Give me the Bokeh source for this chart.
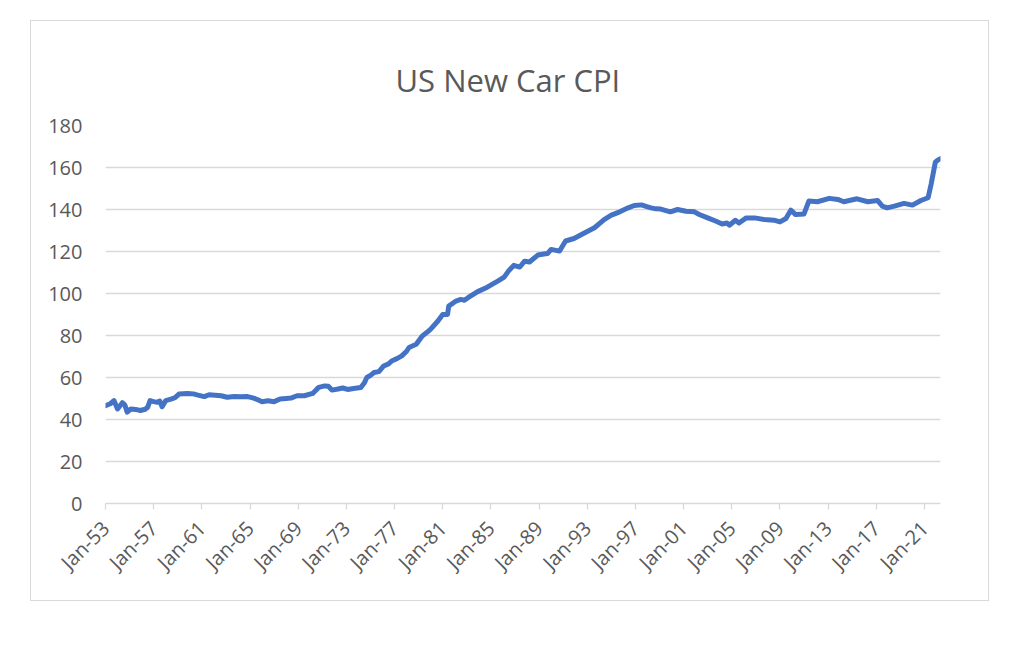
import math
from bokeh.plotting import figure
from bokeh.models import FixedTicker
from bokeh.embed import file_html
from bokeh.resources import INLINE

# Decimal year of each reading and the CPI value
YEARS = [1953.0, 1953.4, 1953.7, 1954.0, 1954.4, 1954.6, 1954.8, 1955.1, 1955.5, 1955.9,
         1956.3, 1956.5, 1956.7, 1957.0, 1957.3, 1957.5, 1957.7, 1958.0, 1958.5, 1958.8,
         1959.1, 1959.8, 1960.3, 1960.6, 1961.2, 1961.6, 1962.1, 1962.6, 1963.1, 1963.7,
         1964.2, 1964.8, 1965.3, 1965.7, 1966.0, 1966.5, 1967.0, 1967.5, 1968.0, 1968.4,
         1968.9, 1969.5, 1970.2, 1970.7, 1971.2, 1971.5, 1971.8, 1972.3, 1972.7, 1973.1,
         1973.6, 1974.2, 1974.5, 1974.7, 1975.0, 1975.3, 1975.7, 1976.1, 1976.5, 1976.8,
         1977.2, 1977.6, 1978.0, 1978.2, 1978.8, 1979.3, 1979.7, 1980.0, 1980.6, 1981.0,
         1981.4, 1981.5, 1982.1, 1982.5, 1982.8, 1983.1, 1983.9, 1984.7, 1985.6, 1986.1,
         1986.5, 1986.9, 1987.4, 1987.8, 1988.2, 1988.9, 1989.4, 1989.7, 1990.0, 1990.7,
         1991.2, 1991.9, 1992.8, 1993.6, 1994.4, 1995.0, 1995.7, 1996.4, 1996.9, 1997.5,
         1998.0, 1998.3, 1998.7, 1999.1, 1999.9, 2000.5, 2001.2, 2001.9, 2002.3, 2003.0,
         2003.7, 2004.2, 2004.6, 2004.8, 2005.3, 2005.6, 2006.2, 2006.9, 2007.7, 2008.5,
         2009.0, 2009.5, 2009.9, 2010.3, 2011.0, 2011.4, 2012.1, 2013.1, 2013.8, 2014.3,
         2015.4, 2016.3, 2017.1, 2017.5, 2017.9, 2018.5, 2019.3, 2020.0, 2020.7, 2021.3,
         2021.55, 2021.75, 2021.9, 2022.1, 2022.33]
CPI = [46.6, 47.5, 49.0, 45.0, 48.0, 47.0, 43.5, 45.0, 44.8, 44.3,
       44.9, 45.8, 49.0, 48.5, 48.2, 48.8, 46.1, 49.0, 49.8, 50.5,
       52.1, 52.4, 52.2, 51.7, 50.9, 51.8, 51.6, 51.3, 50.6, 51.0,
       50.8, 50.9, 50.2, 49.3, 48.5, 48.9, 48.5, 49.8, 50.0, 50.2,
       51.3, 51.3, 52.4, 55.3, 56.0, 55.8, 54.0, 54.5, 55.0, 54.3,
       54.8, 55.2, 57.5, 60.0, 61.0, 62.4, 62.8, 65.5, 66.5, 68.0,
       69.0, 70.3, 72.5, 74.3, 75.8, 79.8, 81.5, 83.0, 86.9, 90.0,
       90.0, 94.0, 96.4, 97.2, 96.8, 98.0, 100.9, 103.0, 106.0, 107.8,
       111.0, 113.4, 112.6, 115.4, 115.0, 118.3, 118.8, 119.0, 121.0, 120.2,
       125.0, 126.2, 128.9, 131.3, 135.2, 137.3, 138.9, 140.8, 141.9, 142.2,
       141.3, 140.8, 140.3, 140.2, 138.9, 140.0, 139.2, 138.9, 137.6, 136.0,
       134.4, 133.1, 133.6, 132.5, 134.9, 133.6, 136.0, 136.0, 135.2, 134.9,
       134.1, 135.7, 139.7, 137.6, 137.9, 144.0, 143.7, 145.3, 144.8, 143.7,
       145.1, 143.7, 144.3, 141.6, 140.8, 141.6, 142.9, 142.1, 144.3, 145.6,
       152.0, 158.0, 162.5, 163.5, 164.2]

TICK_YEARS = [1953, 1957, 1961, 1965, 1969, 1973, 1977, 1981, 1985,
              1989, 1993, 1997, 2001, 2005, 2009, 2013, 2017, 2021]
TICK_LABELS = ["Jan-53", "Jan-57", "Jan-61", "Jan-65", "Jan-69", "Jan-73", "Jan-77",
               "Jan-81", "Jan-85", "Jan-89", "Jan-93", "Jan-97", "Jan-01", "Jan-05",
               "Jan-09", "Jan-13", "Jan-17", "Jan-21"]
Y_TICKS = [0, 20, 40, 60, 80, 100, 120, 140, 160, 180]

FONT = "Open Sans"
TXT = "#595959"
GRID = "#d9d9d9"

p = figure(width=959, height=581, output_backend="svg", toolbar_location=None,
           x_range=(1953.0, 2022.33), y_range=(0, 180),
           min_border_left=74, min_border_right=50, min_border_top=104,
           min_border_bottom=99)
p.margin = (20, 0, 0, 30)
p.styles = {"border": "1px solid #d9d9d9"}
p.outline_line_color = None
p.background_fill_color = "white"
p.border_fill_color = "white"

p.title.text = "US New Car CPI"
p.title.align = "left"
p.title.text_font = FONT
p.title.text_font_style = "normal"
p.title.text_font_size = "31px"
p.title.text_color = TXT
p.title.offset = 290
p.title.standoff = 50

p.line(YEARS, CPI, line_color="#4472C4", line_width=5,
       line_join="round", line_cap="round")

xa = p.xaxis[0]
xa.ticker = FixedTicker(ticks=TICK_YEARS)
xa.major_label_overrides = dict(zip(TICK_YEARS, TICK_LABELS))
xa.major_label_orientation = math.pi / 4
xa.axis_line_color = GRID
xa.axis_line_width = 1.3
xa.major_tick_line_color = GRID
xa.major_tick_line_width = 1.3
xa.major_tick_in = 0
xa.major_tick_out = 6
xa.minor_tick_line_color = None
xa.major_label_text_font = FONT
xa.major_label_text_font_size = "20px"
xa.major_label_text_color = TXT
xa.major_label_standoff = 15

ya = p.yaxis[0]
ya.ticker = FixedTicker(ticks=Y_TICKS)
ya.axis_line_color = None
ya.major_tick_line_color = None
ya.minor_tick_line_color = None
ya.major_tick_in = 0
ya.major_tick_out = 0
ya.major_label_text_font = FONT
ya.major_label_text_font_size = "20px"
ya.major_label_text_color = TXT
ya.major_label_standoff = 23

p.xgrid.grid_line_color = None
p.ygrid.grid_line_color = GRID
p.ygrid.grid_line_width = 1.3

open("out.html", "w").write(file_html(p, INLINE))
